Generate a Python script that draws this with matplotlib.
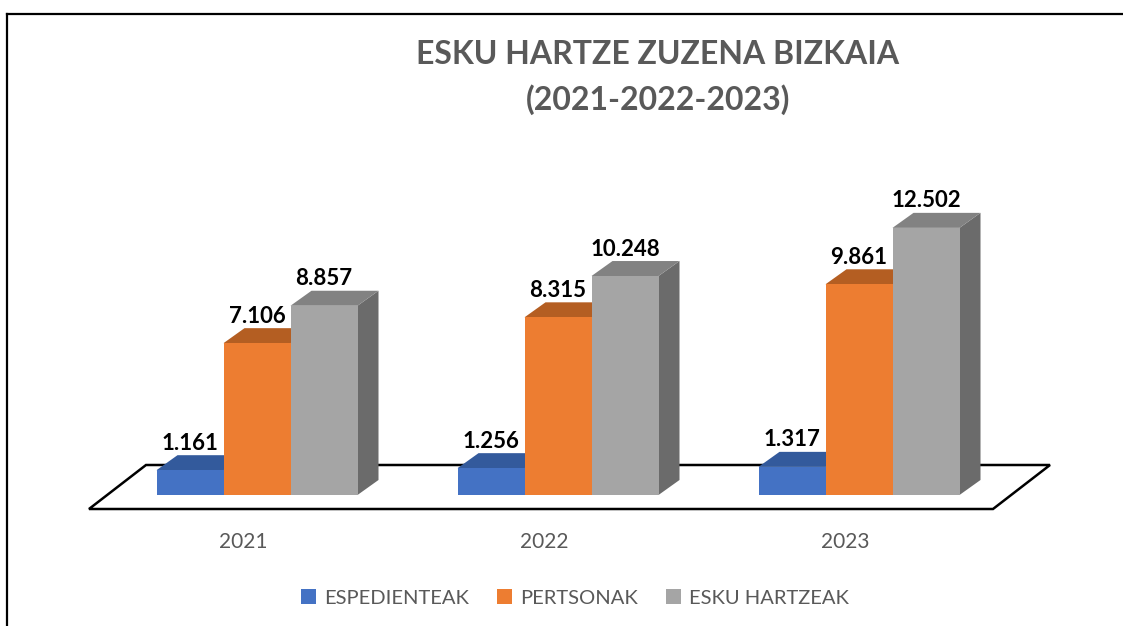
import matplotlib
matplotlib.use("Agg")
import matplotlib.pyplot as plt
from matplotlib.patches import Polygon, Patch
from matplotlib.lines import Line2D

# ---- data ----
years = ["2021", "2022", "2023"]
series_names = ["ESPEDIENTEAK", "PERTSONAK", "ESKU HARTZEAK"]
espedienteak = [1161, 1256, 1317]
pertsonak = [7106, 8315, 9861]
esku_hartzeak = [8857, 10248, 12502]
value_labels = {
    "ESPEDIENTEAK": ["1.161", "1.256", "1.317"],
    "PERTSONAK": ["7.106", "8.315", "9.861"],
    "ESKU HARTZEAK": ["8.857", "10.248", "12.502"],
}
title_lines = ["ESKU HARTZE ZUZENA BIZKAIA", "(2021-2022-2023)"]

# ---- styles ----
front_colors = ["#4472C4", "#ED7D31", "#A5A5A5"]
top_colors = ["#335A9C", "#B45E22", "#828282"]
side_colors = ["#2E4F8A", "#A3541E", "#6B6B6B"]
text_gray = "#595959"
FONT = ["Lato", "DejaVu Sans"]

W, H = 1123, 626
fig = plt.figure(figsize=(W / 100, H / 100), dpi=100)
ax = fig.add_axes([0, 0, 1, 1])

# pixel <-> data mapping
group_px = 301.0          # px per category
x0_px = 257.0             # pixel of first group centre
base_px = 495.0           # pixel row of baseline
val_per_px = 46.8         # value units per px
ax.set_xlim((0 - x0_px) / group_px, (W - x0_px) / group_px)
ax.set_ylim((base_px - H) * val_per_px, base_px * val_per_px)
ax.axis("off")

bar_w = 67.0 / group_px
ddx = 21.0 / group_px          # depth offset x
ddy = 15.0 * val_per_px        # depth offset y

# floor parallelogram (in data coords)
def px2d(px, py):
    return ((px - x0_px) / group_px, (base_px - py) * val_per_px)

floor = Polygon([px2d(89, 509), px2d(993, 509), px2d(1050, 465), px2d(146, 465)],
                closed=True, facecolor="white", edgecolor="black", lw=1.8, zorder=1)
ax.add_patch(floor)

all_series = [espedienteak, pertsonak, esku_hartzeak]
for s, (name, vals) in enumerate(zip(series_names, all_series)):
    xs = [i + (s - 1) * bar_w for i in range(len(years))]
    z = 2 + s * 3
    for x, v in zip(xs, vals):
        l, r = x - bar_w / 2, x + bar_w / 2
        side = Polygon([(r, 0), (r + ddx, ddy), (r + ddx, v + ddy), (r, v)],
                       closed=True, facecolor=side_colors[s], edgecolor="none", zorder=z)
        top = Polygon([(l, v), (r, v), (r + ddx, v + ddy), (l + ddx, v + ddy)],
                      closed=True, facecolor=top_colors[s], edgecolor="none", zorder=z + 1)
        ax.add_patch(side)
        ax.add_patch(top)
    ax.bar(xs, vals, width=bar_w, color=front_colors[s], zorder=z + 2, linewidth=0)
    for x, v, lab in zip(xs, vals, value_labels[name]):
        ax.text(x, v + ddy + 1.5 * val_per_px, lab, ha="center", va="bottom",
                fontsize=16, fontweight="bold", color="black", family=FONT, zorder=20)

# category labels
for i, y in enumerate(years):
    ax.text(i - 14 / group_px, (base_px - 542) * val_per_px, y, ha="center", va="center",
            fontsize=15, color=text_gray, family=FONT)

# title
fig.text(658 / W, 1 - 55 / H, title_lines[0], ha="center", va="center",
         fontsize=23, fontweight="bold", color=text_gray, family=FONT)
fig.text(658 / W, 1 - 100 / H, title_lines[1], ha="center", va="center",
         fontsize=23, fontweight="bold", color=text_gray, family=FONT)

# legend
handles = [Patch(facecolor=c, edgecolor="none") for c in front_colors]
leg = fig.legend(handles, series_names, loc="center", bbox_to_anchor=(575 / W, 1 - 598 / H),
                 ncol=3, frameon=False, prop={"family": FONT, "size": 14.5},
                 handlelength=0.75, handleheight=0.75, handletextpad=0.4, columnspacing=1.4)
for t in leg.get_texts():
    t.set_color(text_gray)

# chart frame
fig.add_artist(Line2D([7 / W, 1], [1 - 14 / H, 1 - 14 / H], color="black", lw=1.6))
fig.add_artist(Line2D([7 / W, 7 / W], [1 - 14 / H, 0], color="black", lw=1.6))

fig.savefig("out.png", dpi=100)
